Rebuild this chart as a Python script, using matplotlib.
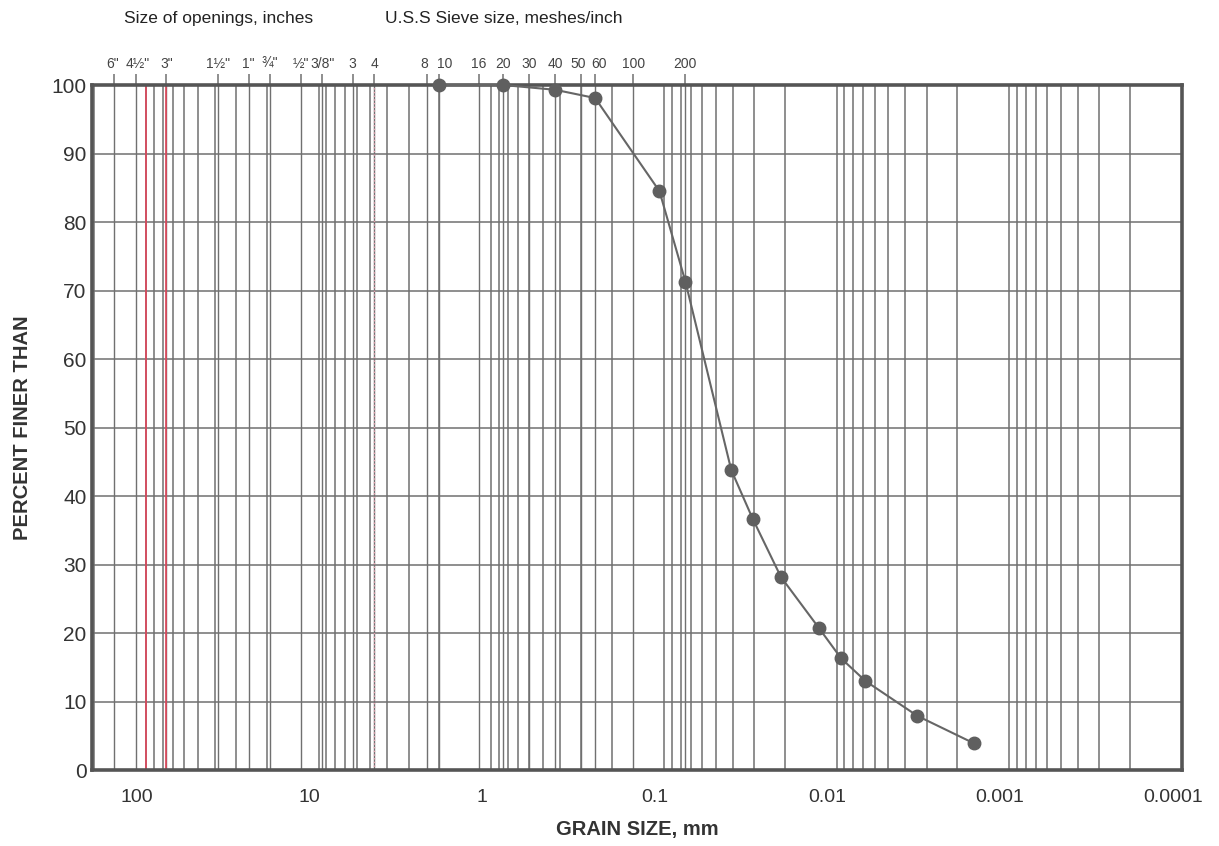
import numpy as np
import matplotlib.pyplot as plt
from matplotlib.ticker import FixedLocator, LogLocator, NullFormatter
from matplotlib.transforms import ScaledTranslation

plt.rcParams['font.family'] = ['Liberation Sans', 'DejaVu Sans']

# 粒径分布数据 (mm, %)
grain_mm = [2.0, 0.85, 0.425, 0.25, 0.106, 0.075, 0.0407, 0.0306,
            0.0210, 0.0127, 0.0094, 0.0068, 0.0034, 0.0016]
pct_finer = [100, 100, 99.3, 98.1, 84.5, 71.3, 43.8, 36.7,
             28.2, 20.8, 16.3, 13.0, 7.9, 3.9]

# 顶部筛孔刻度
sieve_mm = [152.4, 114.3, 76.2, 38.1, 25.4, 19.05, 12.7, 9.525, 6.35, 4.75,
            2.36, 2.0, 1.18, 0.85, 0.6, 0.425, 0.3, 0.25, 0.15, 0.075]
sieve_labels = ['6"', '4\u00bd"', '3"', '1\u00bd"', '1"', '\u00be"', '\u00bd"', '3/8"',
                '3', '4', '8', '10', '16', '20', '30', '40', '50', '60', '100', '200']

x_ticks = [100, 10, 1, 0.1, 0.01, 0.001, 0.0001]
x_ticklabels = ['100', '10', '1', '0.1', '0.01', '0.001', '0.0001']
y_ticks = list(range(0, 101, 10))

fig = plt.figure(figsize=(12.19, 8.46), dpi=100)
ax = fig.add_axes([0.0755, 0.0898, 0.894, 0.8097])

grid_c = '#707070'
text_c = '#333333'

ax.set_xscale('log')
ax.set_xlim(205, 1.07e-4)
ax.set_ylim(0, 100)

# 对数网格
ax.xaxis.set_major_locator(FixedLocator(x_ticks))
ax.xaxis.set_minor_locator(LogLocator(base=10, subs=np.arange(2, 10), numticks=20))
ax.xaxis.set_minor_formatter(NullFormatter())
ax.set_xticks(x_ticks)
ax.set_xticklabels(x_ticklabels)
ax.set_yticks(y_ticks)
ax.grid(True, which='both', axis='x', color=grid_c, linewidth=1.1)
ax.grid(True, which='major', axis='y', color=grid_c, linewidth=1.1)

# 筛孔位置的竖线
for s in sieve_mm:
    ax.axvline(s, color=grid_c, linewidth=1.0, zorder=0.5)
ax.axvline(100, color='#e0455a', linewidth=1.2, zorder=2)
ax.axvline(76.2, color='#e0455a', linewidth=1.2, zorder=2)
ax.axvline(4.75, color='#e8a0b0', linewidth=1.0, linestyle=':', zorder=2)

ax.tick_params(axis='x', which='both', length=0, pad=14, labelsize=14, colors=text_c)
ax.tick_params(axis='y', which='both', length=0, pad=4, labelsize=15, colors=text_c)

# 扫描图中底部标签略向左偏
shift = ScaledTranslation(-9 / 100, 0, fig.dpi_scale_trans)
for lab in ax.get_xticklabels():
    lab.set_transform(lab.get_transform() + shift)

for sp in ax.spines.values():
    sp.set_color('#555555')
    sp.set_linewidth(2.6)

ax.plot(grain_mm, pct_finer, color='#666666', linewidth=1.5, marker='o',
        markersize=9, markerfacecolor='#5f5f5f', markeredgecolor='#5f5f5f',
        clip_on=False, zorder=5)

# 顶部刻度
top = ax.secondary_xaxis('top')
top.set_xticks(sieve_mm)
top.set_xticklabels(sieve_labels)
top.xaxis.set_minor_locator(FixedLocator([]))
top.tick_params(axis='x', direction='out', length=8, width=1.1, color=grid_c,
                labelsize=10, colors='#444444', pad=2)
top.spines['top'].set_visible(False)

# 挤在一起的标签稍微错开
nudge = {'8': -3, '10': 5, '50': -3, '60': 4, '6"': -2, '4\u00bd"': 2}
for lab in top.get_xticklabels():
    dx = nudge.get(lab.get_text(), 0)
    if dx:
        lab.set_transform(lab.get_transform() + ScaledTranslation(dx / 100, 0, fig.dpi_scale_trans))

ax.set_xlabel('GRAIN SIZE, mm', fontsize=14.5, fontweight='bold', color=text_c, labelpad=10)
ax.set_ylabel('PERCENT FINER THAN', fontsize=14.5, fontweight='bold', color=text_c, labelpad=14)

fig.text(0.102, 0.978, 'Size of openings, inches', fontsize=12.5, color='#222222',
         ha='left', va='center')
fig.text(0.316, 0.978, 'U.S.S Sieve size, meshes/inch', fontsize=12.5, color='#222222',
         ha='left', va='center')

plt.savefig('out.png', dpi=100)
